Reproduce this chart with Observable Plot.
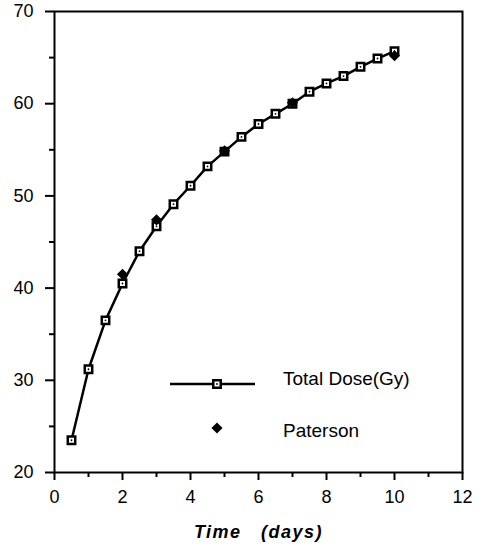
<!DOCTYPE html>
<html><head><meta charset="utf-8">
<script src="https://cdn.jsdelivr.net/npm/d3@7"></script>
<script src="https://cdn.jsdelivr.net/npm/@observablehq/plot@0.6"></script>
<style>
body{margin:0;background:#fff;}
#wrap{position:relative;width:478px;height:553px;font-family:"Liberation Sans",Arial,sans-serif;}
#legend{position:absolute;left:0;top:0;}
</style></head><body><div id="wrap"></div>
<script>
// Data
const days = [0.5,1,1.5,2,2.5,3,3.5,4,4.5,5,5.5,6,6.5,7,7.5,8,8.5,9,9.5,10];
const totalDose = [23.5,31.2,36.5,40.5,44.0,46.7,49.1,51.1,53.2,54.8,56.4,57.8,58.9,60.0,61.3,62.2,63.0,64.0,64.9,65.7];
const patersonDays = [2,3,5,7,10];
const patersonDose = [41.5,47.4,54.9,60.1,65.2];
const xMajor = [0,2,4,6,8,10,12];
const xMinor = [1,3,5,7,9,11];
const yMajor = [20,30,40,50,60,70];
const yMinor = [25,35,45,55,65];
const xTitle = "Time   (days)";
const legendLabels = ["Total Dose(Gy)","Paterson"];

const total = days.map((d,i)=>({day:d, dose:totalDose[i]}));
const pat = patersonDays.map((d,i)=>({day:d, dose:patersonDose[i]}));

const plot = Plot.plot({
  width:478, height:553,
  marginLeft:54, marginRight:16, marginTop:11, marginBottom:81,
  style:{fontFamily:'"Liberation Sans",Arial,sans-serif', fontSize:"18px", color:"#000", background:"#fff", overflow:"visible"},
  x:{domain:[0,12], label:null},
  y:{domain:[20,70], label:null},
  marks:[
    Plot.axisX(xMajor,{tickSize:8, tickPadding:10, strokeWidth:2, fontSize:18, label:null}),
    Plot.axisX(xMinor,{tickSize:5, strokeWidth:2, text:null, label:null}),
    Plot.axisY(yMajor,{tickSize:9, tickPadding:12, strokeWidth:2, fontSize:18, label:null}),
    Plot.axisY(yMinor,{tickSize:5, strokeWidth:2, text:null, label:null}),
    Plot.frame({stroke:"black", strokeWidth:2}),
    Plot.text([xTitle],{text:d=>d, frameAnchor:"bottom", dy:65, fontSize:18, fontWeight:"bold", fontStyle:"italic", className:"xtitle"}),
    Plot.line(total,{x:"day", y:"dose", stroke:"black", strokeWidth:2.5}),
    Plot.dot(total,{x:"day", y:"dose", symbol:"square", r:4.2, fill:"white", stroke:"black", strokeWidth:2.5}),
    Plot.dot(total,{x:"day", y:"dose", r:0.9, fill:"black"}),
    Plot.dot(pat,{x:"day", y:"dose", symbol:"diamond2", r:5, fill:"black"})
  ]
});
const wrap = document.getElementById("wrap");
wrap.appendChild(plot);
d3.select(plot).selectAll(".xtitle text").style("white-space","pre").style("letter-spacing","1.5px");

// Legend overlay
const sq = d3.symbol(d3.symbolSquare, 4.2*4.2*Math.PI)();
const dm = d3.symbol(d3.symbolDiamond2, 5*5*Math.PI)();
const lg = d3.select(wrap).append("svg").attr("id","legend").attr("width",478).attr("height",553)
  .style("font-family",'"Liberation Sans",Arial,sans-serif');
const g1 = lg.append("g");
g1.append("line").attr("x1",170).attr("x2",255).attr("y1",384).attr("y2",384).attr("stroke","black").attr("stroke-width",2.5);
g1.append("path").attr("d",sq).attr("transform","translate(217,384)").attr("fill","white").attr("stroke","black").attr("stroke-width",2.5);
g1.append("circle").attr("cx",217).attr("cy",384).attr("r",0.9).attr("fill","black");
g1.append("text").attr("x",283).attr("y",385).attr("font-size",19).text(legendLabels[0]);
const g2 = lg.append("g");
g2.append("path").attr("d",dm).attr("transform","translate(217,428)").attr("fill","black");
g2.append("text").attr("x",283).attr("y",437).attr("font-size",19).text(legendLabels[1]);
</script></body></html>
